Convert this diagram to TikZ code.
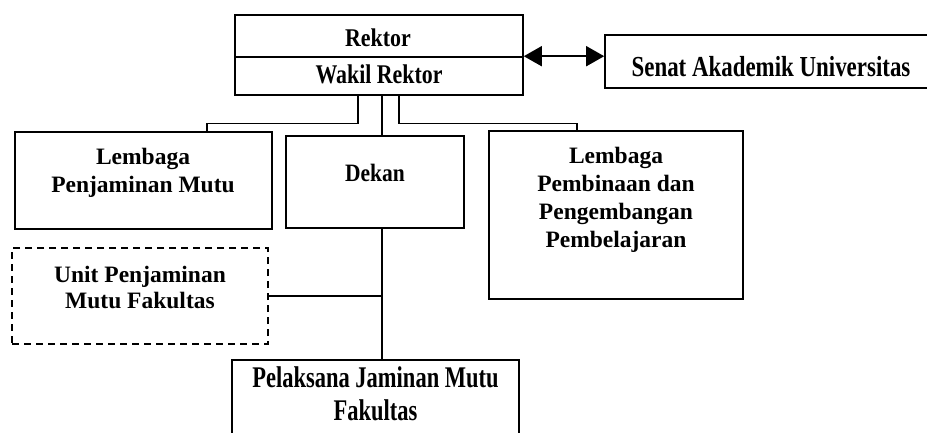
\documentclass[tikz,border=0pt]{standalone}
\usepackage{fontspec}
\setmainfont{Liberation Serif}
\newfontfamily\condA[FakeStretch=0.86]{Liberation Serif}
\newfontfamily\condB[FakeStretch=0.81]{Liberation Serif}
\newfontfamily\condC[FakeStretch=0.79]{Liberation Serif}
\newfontfamily\condD[FakeStretch=0.75]{Liberation Serif}
\usetikzlibrary{arrows.meta,calc}
\begin{document}
\begin{tikzpicture}[x=1pt,y=-1pt,
  box/.style={draw=black, line width=1.6pt, inner sep=0pt},
  dbox/.style={box, dash pattern=on 7pt off 5pt},
  conn/.style={draw=black, line width=1.3pt},
  txt/.style={inner sep=0pt, align=center, font=\bfseries\fontsize{23.5}{27.5}\selectfont},
  ctxt/.style={inner sep=0pt, anchor=base}]
\useasboundingbox (0,0) rectangle (927,433);
% boxes
\node[box, minimum width=288pt, minimum height=42pt] (rektor) at (379,36) {};
\node[box, minimum width=288pt, minimum height=38pt] (wakil) at (379,76) {};
\node[box, minimum width=324pt, minimum height=53pt] (senat) at (767,61.5) {};
\node[box, minimum width=257pt, minimum height=97pt] (lpm) at (143.5,180.5) {};
\node[box, minimum width=178pt, minimum height=92pt] (dekan) at (375,182) {};
\node[box, minimum width=254pt, minimum height=168pt] (lppp) at (616,215) {};
\node[dbox, minimum width=256pt, minimum height=96pt] (upmf) at (140,296) {};
\node[box, minimum width=287pt, minimum height=90pt] (pel) at (375.5,405) {};
% texts
\node[ctxt, font=\condA\bfseries\fontsize{25.5}{30}\selectfont] (trektor) at (378,47) {Rektor};
\node[ctxt, font=\condB\bfseries\fontsize{27}{30}\selectfont] (twakil) at (379,84) {Wakil Rektor};
\node[ctxt, font=\condC\bfseries\fontsize{29}{34}\selectfont] (tsenat) at (771,76.5) {Senat Akademik Universitas};
\node[txt] (tlpm) at (143,173) {Lembaga\\Penjaminan Mutu};
\node[ctxt, font=\condA\bfseries\fontsize{25}{30}\selectfont] (tdekan) at (375,182) {Dekan};
\node[txt, font=\bfseries\fontsize{23.5}{28}\selectfont] (tlppp) at (616,200) {Lembaga\\Pembinaan dan\\Pengembangan\\Pembelajaran};
\node[txt, font=\bfseries\fontsize{23.5}{26}\selectfont] (tupmf) at (140,287) {Unit Penjaminan\\Mutu Fakultas};
\node[inner sep=0pt, align=center, font=\condD\bfseries\fontsize{30}{33}\selectfont] (tpel) at (375.5,394) {Pelaksana Jaminan Mutu\\Fakultas};
% connectors
\draw[conn, line width=1.6pt, {Triangle[length=18pt,width=20pt]}-{Triangle[length=18pt,width=20pt]}] (wakil.north east) -- (senat.west |- wakil.north east);
\draw[conn] ([xshift=-21pt]wakil.south) -- ++(0,28) -| ([xshift=63.5pt]lpm.north);
\draw[conn] ([xshift=20pt]wakil.south) -- ++(0,28) -| ([xshift=-39pt]lppp.north);
\draw[conn] ([xshift=3pt]wakil.south) -- ([xshift=3pt]wakil.south |- dekan.north);
\coordinate (dk) at ([xshift=7pt]dekan.south);
\draw[conn] (dk) -- (dk |- pel.north);
\draw[conn] (upmf.east) -- (upmf.east -| dk);
\end{tikzpicture}
\end{document}
